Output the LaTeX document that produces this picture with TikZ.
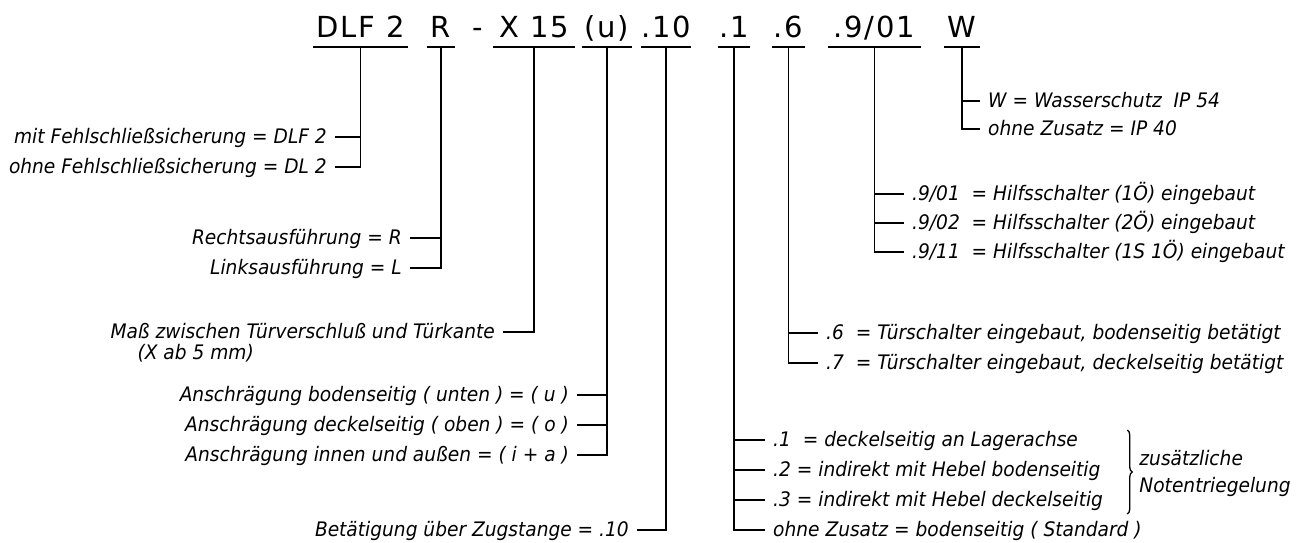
\documentclass[tikz,border=0pt]{standalone}
\usepackage{fontspec}
\setmainfont{DejaVu Sans}
\newfontfamily\codefont[LetterSpace=6]{DejaVu Sans}
\newfontfamily\lblfont[FakeStretch=0.93]{DejaVu Sans Oblique}
\usetikzlibrary{positioning,calc,decorations.pathreplacing}
\tikzset{
  % --- nodes
  code/.style  = {font=\codefont\fontsize{29}{34}\selectfont, inner xsep=0pt,
                  inner ysep=0pt, text depth=10pt, anchor=base},
  lbl/.style   = {font=\lblfont\fontsize{20}{22}\selectfont, inner xsep=8pt,
                  inner ysep=0pt, text height=12pt, text depth=0pt},
  lblL/.style  = {lbl, anchor=east},
  lblR/.style  = {lbl, anchor=west},
  note/.style  = {font=\lblfont\fontsize{20}{27}\selectfont, align=left,
                  inner sep=0pt, anchor=west},
  % --- lines
  ln/.style    = {line width=1.7pt},
  brace/.style = {decorate, decoration={brace, amplitude=5pt}, line width=1.3pt},
}
\begin{document}
\begin{tikzpicture}[x=1pt,y=-1pt]
  \useasboundingbox (0,0) rectangle (1300,542);

  % type code
  \node[code, minimum width=95pt] (cDLF) at (360.5,37) {DLF 2};
  \node[code, minimum width=28pt] (cR)   at (441,37)   {R};
  \node[code]                     (cDash) at (478,37)  {-};
  \node[code, minimum width=82pt] (cX)   at (534,37)   {X 15};
  \node[code, minimum width=50pt] (cU)   at (607,37)   {(u)};
  \node[code, minimum width=48pt] (cZ)   at (666,37)   {.10};
  \node[code, minimum width=32pt] (c1)   at (734,37)   {.1};
  \node[code, minimum width=33pt] (c6)   at (788.5,37) {.6};
  \node[code, minimum width=93pt] (c9)   at (874.5,37) {.9/01};
  \node[code, minimum width=36pt] (cW)   at (962,37)   {W};
  \foreach \c in {cDLF,cR,cX,cU,cZ,c1,c6,c9,cW}
    \draw[ln] (\c.south west) -- (\c.south east);

  % left side
  \node[lblL] (fsMit)  at (335,137) {mit Fehlschließsicherung = DLF 2};
  \node[lblL] (fsOhne) at (335,167) {ohne Fehlschließsicherung = DL 2};
  \draw[ln] (cDLF.south) |- (fsOhne.east);
  \draw[ln] (fsMit.east) -- (fsMit.east -| cDLF.south);

  \node[lblL] (ausR) at (410,238) {Rechtsausführung = R};
  \node[lblL] (ausL) at (410,268) {Linksausführung = L};
  \draw[ln] (cR.south) |- (ausL.east);
  \draw[ln] (ausR.east) -- (ausR.east -| cR.south);

  \node[lblL] (mass) at (503,332) {Maß zwischen Türverschluß und Türkante};
  \node[lbl, anchor=base west] (massX) at ([xshift=27pt,yshift=-21pt]mass.base west) {(X ab 5 mm)};
  \draw[ln] (cX.south) |- (mass.east);

  \node[lblL] (anU)  at (577,395) {Anschrägung bodenseitig ( unten ) = ( u )};
  \node[lblL] (anO)  at (577,425) {Anschrägung deckelseitig ( oben ) = ( o )};
  \node[lblL] (anIA) at (577,455) {Anschrägung innen und außen = ( i + a )};
  \draw[ln] (cU.south) |- (anIA.east);
  \foreach \n in {anU,anO}
    \draw[ln] (\n.east) -- (\n.east -| cU.south);

  \node[lblL] (zug) at (637,530) {Betätigung über Zugstange = .10};
  \draw[ln] (cZ.south) |- (zug.east);

  % right side
  \node[lblR] (wW)    at (980,101) {W = Wasserschutz~ IP 54};
  \node[lblR] (wOhne) at (980,129) {ohne Zusatz = IP 40};
  \draw[ln] (cW.south) |- (wOhne.west);
  \draw[ln] (wW.west) -- (wW.west -| cW.south);

  \node[lblR] (hs01) at (904,194) {.9/01~ = Hilfsschalter (1Ö) eingebaut};
  \node[lblR] (hs02) at (904,223) {.9/02~ = Hilfsschalter (2Ö) eingebaut};
  \node[lblR] (hs11) at (904,252) {.9/11~ = Hilfsschalter (1S 1Ö) eingebaut};
  \draw[ln] (c9.south) |- (hs11.west);
  \foreach \n in {hs01,hs02}
    \draw[ln] (\n.west) -- (\n.west -| c9.south);

  \node[lblR] (ts6) at (818,333) {.6~ = Türschalter eingebaut, bodenseitig betätigt};
  \node[lblR] (ts7) at (818,363) {.7~ = Türschalter eingebaut, deckelseitig betätigt};
  \draw[ln] (c6.south) |- (ts7.west);
  \draw[ln] (ts6.west) -- (ts6.west -| c6.south);

  \node[lblR] (ne1) at (765,440) {.1~ = deckelseitig an Lagerachse};
  \node[lblR] (ne2) at (765,470) {.2 = indirekt mit Hebel bodenseitig};
  \node[lblR] (ne3) at (765,500) {.3 = indirekt mit Hebel deckelseitig};
  \node[lblR] (ne0) at (765,530) {ohne Zusatz = bodenseitig ( Standard )};
  \draw[ln] (c1.south) |- (ne0.west);
  \foreach \n in {ne1,ne2,ne3}
    \draw[ln] (\n.west) -- (\n.west -| c1.south);

  \draw[brace] ($(ne3.east |- ne1.east)+(16,-10)$) -- ($(ne3.east)+(16,14)$);
  \node[note] (nte) at ($(ne3.east)+(28,-27)$) {zusätzliche\\Notentriegelung};
\end{tikzpicture}
\end{document}
